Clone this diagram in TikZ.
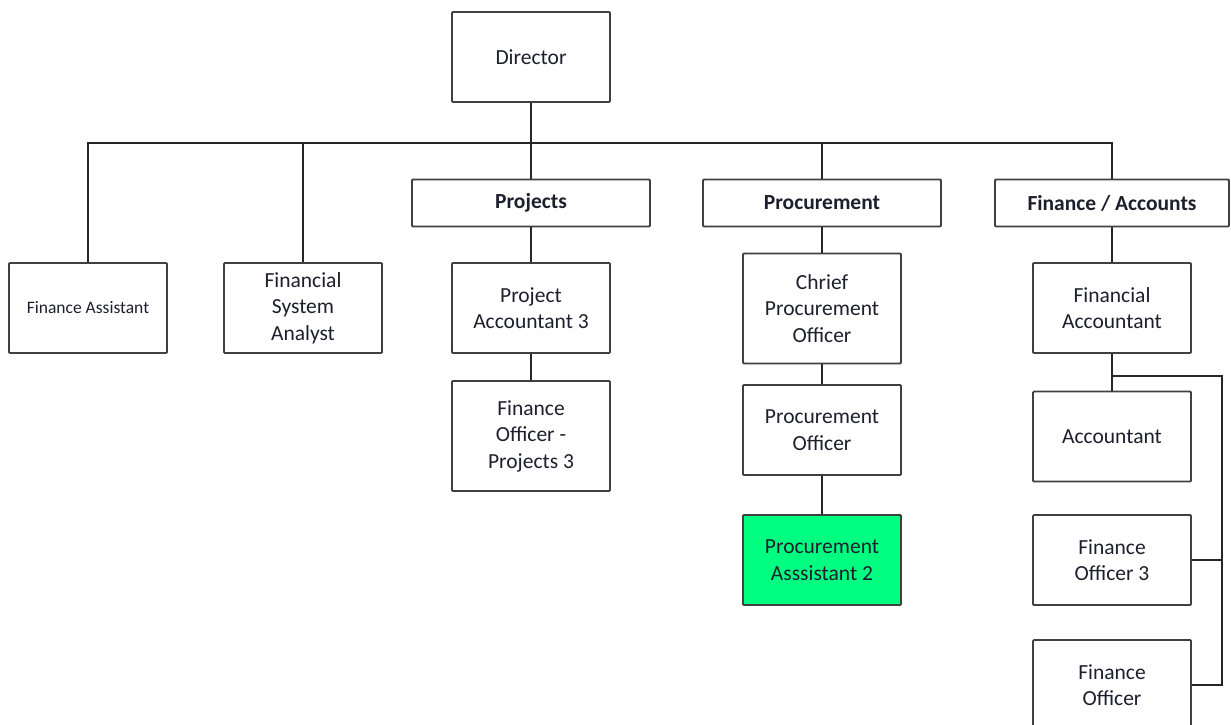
\documentclass[tikz,border=0pt]{standalone}
\usepackage{fontspec}
\setmainfont{Carlito}
\definecolor{boxline}{RGB}{64,64,64}
\definecolor{txt}{RGB}{30,30,45}
\definecolor{hl}{RGB}{0,255,128}
\begin{document}
\begin{tikzpicture}[x=1pt,y=-1pt,
  box/.style={draw=boxline,line width=1.8pt,rounded corners=1pt,fill=white,
    text=txt,align=center,inner sep=0pt,font=\fontsize{21.5}{26.5}\selectfont},
  big/.style={box,minimum width=158pt,minimum height=90pt},
  tall/.style={box,minimum width=158pt,minimum height=110pt},
  head/.style={box,minimum width=238pt,minimum height=47pt,font=\fontsize{21.5}{26.5}\selectfont\bfseries},
  conn/.style={draw=black!85,line width=1.6pt}]
\useasboundingbox (0,0) rectangle (1231,724);

% Nodes
\node[big] (dir) at (531,57) {Director};
\node[head] (proj) at (531,203) {Projects};
\node[head] (proc) at (822,203) {Procurement};
\node[head,minimum width=234pt] (fin) at (1112,203) {Finance / Accounts};

\node[big,font=\fontsize{17.5}{20}\selectfont] (fa) at (88,308) {Finance Assistant};
\node[big] (fsa) at (303,308) {Financial\\System\\Analyst};
\node[big] (pa) at (531,308) {Project\\Accountant 3};
\node[tall] (fop) at (531,436) {Finance\\Officer -\\Projects 3};

\node[tall] (cpo) at (822,308.5) {Chrief\\Procurement\\Officer};
\node[big] (po) at (822,430) {Procurement\\Officer};
\node[big,fill=hl] (pas) at (822,560) {Procurement\\Asssistant 2};

\node[big] (facc) at (1112,308) {Financial\\Accountant};
\node[big] (acc) at (1112,436.5) {Accountant};
\node[big] (fo3) at (1112,560) {Finance\\Officer 3};
\node[big] (fo) at (1112,685) {Finance\\Officer};

\coordinate (bus) at (531,143);
\coordinate (r1) at (1222,376);

% Connectors
\draw[conn] (dir.south) -- (bus);
\draw[conn] (fa.north) |- (bus);
\draw[conn] (fsa.north) |- (bus);
\draw[conn] (proj.north) -- (bus);
\draw[conn] (proc.north) |- (bus);
\draw[conn] (fin.north) |- (bus);

\draw[conn] (proj.south) -- (pa.north);
\draw[conn] (pa.south) -- (fop.north);

\draw[conn] (proc.south) -- (cpo.north);
\draw[conn] (cpo.south) -- (po.north);
\draw[conn] (po.south) -- (pas.north);

\draw[conn] (fin.south) -- (facc.north);
\draw[conn] (facc.south) -- (acc.north);
\draw[conn] (facc.south |- r1) -- (r1) |- (fo3.east);
\draw[conn] (r1) |- (fo.east);
\end{tikzpicture}
\end{document}
